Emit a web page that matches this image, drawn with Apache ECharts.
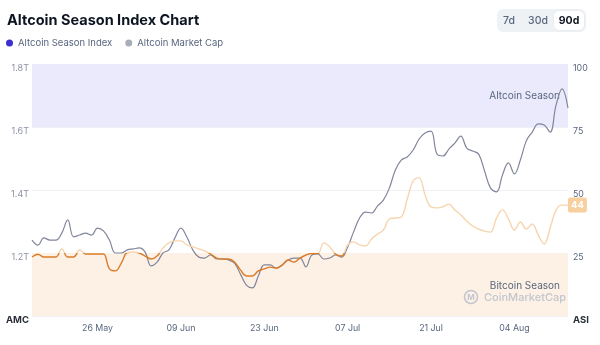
<!DOCTYPE html>
<html>
<head>
<meta charset="utf-8">
<script src="https://cdn.jsdelivr.net/npm/echarts@6/dist/echarts.min.js"></script>
<style>
  html, body { margin: 0; padding: 0; background: #fff; }
  #chart { width: 600px; height: 345px; }
</style>
</head>
<body>
<div id="chart"></div>
<script>
// Daily series, 15 May – 14 Aug 2025 (90d view)
const startDate = '2025-05-15';
const dayCount = 91;

// Altcoin market cap, trillions USD (left axis)
const marketCapT = [
  1.241, 1.225, 1.248, 1.241, 1.241, 1.263, 1.305, 1.251, 1.257, 1.263,
  1.257, 1.279, 1.270, 1.241, 1.200, 1.200, 1.210, 1.213, 1.216, 1.203,
  1.159, 1.171, 1.200, 1.210, 1.248, 1.279, 1.251, 1.210, 1.187, 1.184,
  1.194, 1.181, 1.181, 1.178, 1.168, 1.133, 1.098, 1.089, 1.127, 1.162,
  1.162, 1.152, 1.162, 1.178, 1.184, 1.184, 1.156, 1.194, 1.197, 1.181,
  1.184, 1.194, 1.187, 1.219, 1.267, 1.311, 1.330, 1.327, 1.349, 1.368,
  1.406, 1.463, 1.495, 1.505, 1.527, 1.562, 1.581, 1.587, 1.514, 1.508,
  1.530, 1.549, 1.571, 1.533, 1.524, 1.514, 1.460, 1.406, 1.394, 1.448,
  1.486, 1.451, 1.495, 1.556, 1.584, 1.610, 1.606, 1.584, 1.670, 1.721,
  1.660
];

// Altcoin Season Index, 0–100 (right axis)
const seasonIndex = [
  23.4, 24.5, 23.4, 23.4, 23.4, 26.6, 23.4, 23.4, 26.2, 24.6,
  24.6, 24.6, 24.6, 18.7, 17.9, 21.0, 25.2, 25.4, 25.0, 23.8,
  22.6, 23.8, 27.0, 29.0, 29.8, 29.8, 28.2, 27.4, 26.6, 25.8,
  24.6, 23.0, 22.6, 22.6, 21.4, 18.3, 15.9, 15.9, 17.9, 18.7,
  19.4, 19.0, 20.2, 22.2, 21.4, 23.0, 24.2, 24.8, 24.8, 29.0,
  27.4, 24.5, 23.8, 28.2, 29.4, 28.2, 27.8, 30.6, 32.5, 34.1,
  38.5, 38.9, 39.3, 46.4, 53.6, 54.8, 48.0, 43.3, 42.9, 43.3,
  44.4, 42.1, 40.1, 37.7, 35.7, 34.5, 33.7, 33.3, 38.9, 42.1,
  38.5, 34.1, 37.3, 34.5, 36.5, 32.1, 28.6, 34.9, 42.1, 44.0,
  44
];

// Season bands on the index scale
const altSeasonBand = [75, 100];
const btcSeasonBand = [0, 25];

// Axis scales
const capAxis = { min: 1.0, max: 1.8, step: 0.2 };
const indexAxis = { min: 0, max: 100, step: 25 };

const rangeButtons = ['7d', '30d', '90d'];
const months = ['Jan','Feb','Mar','Apr','May','Jun','Jul','Aug','Sep','Oct','Nov','Dec'];

const days = [];
{
  const d0 = new Date(startDate + 'T00:00:00Z');
  for (let i = 0; i < dayCount; i++) {
    const d = new Date(d0.getTime() + i * 86400000);
    days.push(String(d.getUTCDate()).padStart(2, '0') + ' ' + months[d.getUTCMonth()]);
  }
}
const firstLabel = days.indexOf('26 May');

const FONT = 'Inter, "Noto Sans", sans-serif';
const chart = echarts.init(document.getElementById('chart'), null, { renderer: 'canvas' });

chart.setOption({
  animation: false,
  textStyle: { fontFamily: FONT },
  title: {
    text: 'Altcoin Season Index Chart',
    left: 2, top: 8,
    textStyle: { fontSize: 14.5, fontWeight: 'bold', color: '#0d1421', fontFamily: FONT }
  },
  legend: {
    left: 1, top: 33,
    icon: 'circle', itemWidth: 7, itemHeight: 7, itemGap: 13,
    textStyle: { fontSize: 9.5, color: '#58667e', fontFamily: FONT },
    data: ['Altcoin Season Index', 'Altcoin Market Cap']
  },
  grid: { left: 32, right: 32, top: 64, bottom: 29 },
  xAxis: {
    type: 'category',
    data: days,
    boundaryGap: false,
    axisLine: { show: false },
    axisTick: { show: false },
    axisLabel: {
      color: '#58667e', fontSize: 8.8, margin: 8,
      interval: (i) => i >= firstLabel && (i - firstLabel) % 14 === 0
    },
    splitLine: { show: false }
  },
  yAxis: [
    {
      type: 'value', position: 'left',
      min: capAxis.min, max: capAxis.max, interval: capAxis.step,
      axisLine: { show: false }, axisTick: { show: false },
      axisLabel: {
        color: '#8a93a6', fontSize: 9, margin: 3, padding: [9, 0, 0, 0],
        formatter: (v) => v <= capAxis.min + 1e-6 ? '{b|AMC}' : v.toFixed(1) + 'T',
        rich: { b: { fontWeight: 'bold', color: '#2b2f3a', fontSize: 9.5 } }
      },
      splitLine: { lineStyle: { color: '#f0f1f5', width: 1 } }
    },
    {
      type: 'value', position: 'right',
      min: indexAxis.min, max: indexAxis.max, interval: indexAxis.step,
      axisLine: { show: false }, axisTick: { show: false },
      axisLabel: {
        color: '#58667e', fontSize: 8.8, margin: 5, padding: [9, 0, 0, 0],
        formatter: (v) => v === indexAxis.min ? '{b|ASI}' : String(v),
        rich: { b: { fontWeight: 'bold', color: '#2b2f3a', fontSize: 9.5 } }
      },
      splitLine: { show: false }
    }
  ],
  visualMap: {
    type: 'piecewise',
    show: false,
    seriesIndex: 2,
    dimension: 1,
    pieces: [
      { gte: 0, lt: 25, color: '#dc7c27' },
      { gte: 25, lte: 100, color: '#f6d5ae' }
    ]
  },
  series: [
    {
      // background bands for the two seasons
      name: 'bands',
      type: 'line',
      yAxisIndex: 1,
      data: [],
      z: 1,
      silent: true,
      markArea: {
        silent: true,
        label: {
          position: 'insideRight', distance: 8,
          color: '#58667e', fontSize: 10, fontFamily: FONT
        },
        data: [
          [
            { name: 'Altcoin Season', yAxis: altSeasonBand[0], itemStyle: { color: '#ebeafc' } },
            { yAxis: altSeasonBand[1] }
          ],
          [
            { name: 'Bitcoin Season', yAxis: btcSeasonBand[0], itemStyle: { color: '#fdf0e5' },
              label: { offset: [0, 1] } },
            { yAxis: btcSeasonBand[1] }
          ]
        ]
      }
    },
    {
      name: 'Altcoin Market Cap',
      type: 'line',
      yAxisIndex: 0,
      data: marketCapT,
      smooth: 0.4,
      showSymbol: false,
      itemStyle: { color: '#a9adb9' },
      lineStyle: { color: '#80859a', width: 1.2 },
      z: 3
    },
    {
      name: 'Altcoin Season Index',
      type: 'line',
      yAxisIndex: 1,
      data: seasonIndex,
      smooth: 0.4,
      showSymbol: false,
      itemStyle: { color: '#3b2fd0' },
      lineStyle: { width: 1.4 },
      z: 4,
      endLabel: {
        show: true,
        distance: 0,
        formatter: (p) => String(p.value),
        color: '#ffffff',
        backgroundColor: '#f8cf9f',
        borderRadius: 2,
        padding: [3, 3, 2, 3],
        fontSize: 9.5,
        fontWeight: 'bold'
      }
    }
  ],
  graphic: [
    // range switcher
    {
      type: 'group', left: 497, top: 9,
      children: [
        { type: 'rect', shape: { x: 0, y: 0, width: 89, height: 23, r: 6 }, style: { fill: '#eff2f5' } },
        { type: 'rect', shape: { x: 57, y: 2, width: 30, height: 19, r: 5 },
          style: { fill: '#ffffff', shadowBlur: 2, shadowColor: 'rgba(0,0,0,0.08)' } },
        { type: 'text', x: 12, y: 11.5, style: { text: rangeButtons[0], fill: '#58667e', font: '500 10.5px ' + FONT, verticalAlign: 'middle', align: 'center' } },
        { type: 'text', x: 41, y: 11.5, style: { text: rangeButtons[1], fill: '#58667e', font: '500 10.5px ' + FONT, verticalAlign: 'middle', align: 'center' } },
        { type: 'text', x: 72, y: 11.5, style: { text: rangeButtons[2], fill: '#0d1421', font: 'bold 10.5px ' + FONT, verticalAlign: 'middle', align: 'center' } }
      ]
    },
    // CoinMarketCap mark
    {
      type: 'group', left: 462, top: 288, silent: true, z: 10,
      children: [
        { type: 'circle', z: 10, shape: { cx: 7, cy: 8, r: 6.5 }, style: { fill: 'none', stroke: '#c2c6ce', lineWidth: 1.5 } },
        { type: 'text', z: 10, x: 7, y: 8.5, style: { text: 'M', fill: '#c2c6ce', font: 'bold 8px ' + FONT, align: 'center', verticalAlign: 'middle' } },
        { type: 'text', z: 10, x: 20, y: 8.5, style: { text: 'CoinMarketCap', fill: '#c2c6ce', font: '500 11px ' + FONT, verticalAlign: 'middle' } }
      ]
    }
  ]
});
</script>
</body>
</html>
